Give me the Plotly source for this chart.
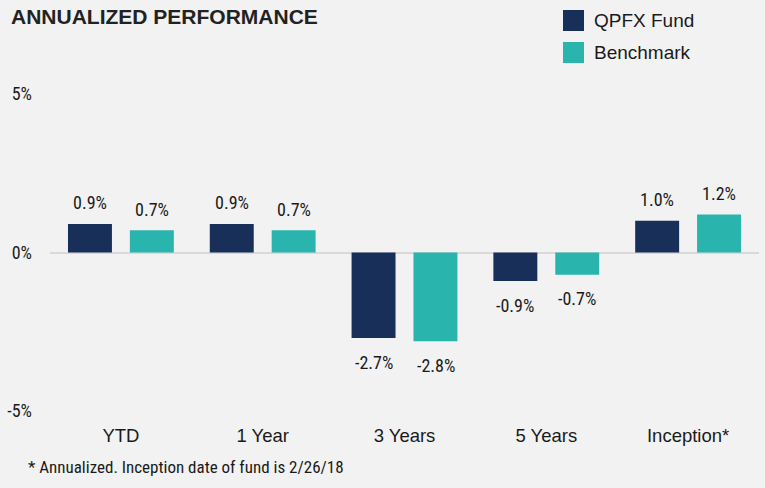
import plotly.graph_objects as go

categories = ["YTD", "1 Year", "3 Years", "5 Years", "Inception*"]
fund_values = [0.9, 0.9, -2.7, -0.9, 1.0]
bench_values = [0.7, 0.7, -2.8, -0.7, 1.2]
series_names = ["QPFX Fund", "Benchmark"]
y_tick_vals = [-5, 0, 5]
y_tick_text = ["-5%", "0%", "5%"]
title_text = "ANNUALIZED PERFORMANCE"
footnote_text = "* Annualized. Inception date of fund is 2/26/18"

NAVY = "#182f5a"
TEAL = "#29b5ae"
BG = "#f2f2f2"
TXT = "#1a1a1a"
FONT = "Liberation Sans, Arial, sans-serif"
NARROW = "Roboto Condensed, Liberation Sans Narrow, Arial Narrow, sans-serif"

W, H = 765, 488
ML, MR, MT, MB = 50, 6, 94, 77
PW, PH = W - ML - MR, H - MT - MB


def px_x(x):
    return (x - ML) / PW


def px_y(y):
    return (H - MB - y) / PH


fig = go.Figure()
fig.add_trace(go.Bar(x=categories, y=fund_values, name=series_names[0],
                     marker=dict(color=NAVY, line=dict(width=0)), showlegend=False))
fig.add_trace(go.Bar(x=categories, y=bench_values, name=series_names[1],
                     marker=dict(color=TEAL, line=dict(width=0)), showlegend=False))

annotations = []
for vals, shift in ((fund_values, -31), (bench_values, 31)):
    for c, v in zip(categories, vals):
        annotations.append(dict(
            x=c, y=v, xref="x", yref="y", text=f"{v:.1f}%", showarrow=False,
            xshift=shift, yshift=21 if v >= 0 else -24,
            font=dict(family=NARROW, size=18, color=TXT),
            xanchor="center", yanchor="middle"))

annotations.append(dict(x=px_x(9), y=px_y(17), xref="paper", yref="paper",
                        text=f"<b>{title_text}</b>",
                        showarrow=False, xanchor="left", yanchor="middle",
                        font=dict(family=FONT, size=21, color="#222222")))
annotations.append(dict(x=px_x(26), y=px_y(467), xref="paper", yref="paper", text=footnote_text,
                        showarrow=False, xanchor="left", yanchor="middle",
                        font=dict(family=NARROW, size=17, color=TXT)))

# legend (drawn manually to match large square swatches)
shapes = []
for i, (name, col) in enumerate(zip(series_names, [NAVY, TEAL])):
    y0 = 10 + i * 32
    shapes.append(dict(type="rect", xref="paper", yref="paper",
                       x0=px_x(563), x1=px_x(584), y0=px_y(y0 + 21), y1=px_y(y0),
                       fillcolor=col, line=dict(width=0)))
    annotations.append(dict(x=px_x(592), y=px_y(y0 + 10.5), xref="paper", yref="paper",
                            text=name, showarrow=False, xanchor="left", yanchor="middle",
                            font=dict(family=FONT, size=19, color=TXT)))

fig.update_layout(
    width=W, height=H,
    margin=dict(l=ML, r=MR, t=MT, b=MB, autoexpand=False),
    paper_bgcolor=BG, plot_bgcolor=BG,
    barmode="group", bargap=0.127, bargroupgap=0.29,
    annotations=annotations, shapes=shapes,
    font=dict(family=FONT, size=15, color=TXT),
    xaxis=dict(showgrid=False, showline=False, ticks="", ticklabelstandoff=11,
               tickfont=dict(family=FONT, size=18.5, color=TXT), fixedrange=True),
    yaxis=dict(range=[-5, 5], tickvals=y_tick_vals, ticktext=y_tick_text,
               showgrid=False, showline=False, zeroline=True, zerolinecolor="#d9d9d9",
               zerolinewidth=2, ticks="", ticklabelstandoff=17,
               tickfont=dict(family=NARROW, size=18, color=TXT)),
)

fig.write_html("out.html", config={"displayModeBar": False},
               post_script="document.body.style.margin='0';document.body.style.background='%s';" % BG)
